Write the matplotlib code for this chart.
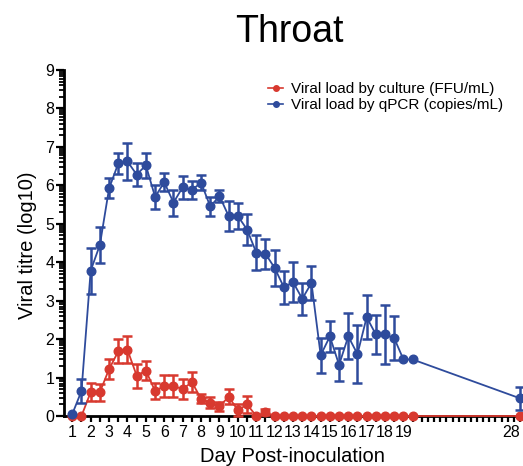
import numpy as np
import matplotlib
matplotlib.use("Agg")
import matplotlib.pyplot as plt
from matplotlib.ticker import FixedLocator, FixedFormatter
from matplotlib.lines import Line2D

plt.rcParams['font.family'] = ['Liberation Sans', 'DejaVu Sans']

# ---------------- data ----------------
days = [1, 1.5, 2, 2.5, 3, 3.5, 4, 4.5, 5, 5.5, 6, 6.5, 7, 7.5, 8, 8.5, 9, 9.5,
        10, 10.5, 11, 11.5, 12, 12.5, 13, 13.5, 14, 14.5, 15, 15.5, 16, 16.5,
        17, 17.5, 18, 18.5, 19, 19.5, 28]

qpcr = [0.05, 0.65, 3.78, 4.45, 5.92, 6.57, 6.62, 6.28, 6.52, 5.70, 6.08, 5.55,
        5.95, 5.88, 6.07, 5.45, 5.72, 5.20, 5.20, 4.85, 4.25, 4.22, 3.85, 3.35,
        3.48, 3.05, 3.46, 1.58, 2.07, 1.33, 2.07, 1.61, 2.57, 2.12, 2.12, 2.02,
        1.47, 1.47, 0.46]
qpcr_err = [0, 0.32, 0.60, 0.47, 0.26, 0.28, 0.48, 0.29, 0.32, 0.32, 0.24, 0.34,
            0.30, 0.23, 0.20, 0.25, 0.16, 0.38, 0.33, 0.40, 0.46, 0.39, 0.48, 0.43,
            0.52, 0.41, 0.45, 0.45, 0.40, 0.43, 0.60, 0.75, 0.58, 0.52, 0.76, 0.57,
            0, 0, 0.30]

culture = [0, 0, 0.62, 0.62, 1.22, 1.68, 1.72, 1.05, 1.18, 0.65, 0.78, 0.78,
           0.70, 0.88, 0.45, 0.35, 0.25, 0.50, 0.15, 0.30, 0.0, 0.10,
           0, 0, 0, 0, 0, 0, 0, 0, 0, 0, 0, 0, 0, 0, 0, 0, 0]
culture_err = [0, 0, 0.24, 0.22, 0.27, 0.31, 0.35, 0.31, 0.25, 0.20, 0.28, 0.28,
               0.25, 0.26, 0.12, 0.15, 0.12, 0.20, 0.15, 0.22, 0, 0.07,
               0, 0, 0, 0, 0, 0, 0, 0, 0, 0, 0, 0, 0, 0, 0, 0, 0]

x_major = [1, 2, 3, 4, 5, 6, 7, 8, 9, 10, 11, 12, 13, 14, 15, 16, 17, 18, 19, 28]
x_labels = ['1', '2', '3', '4', '5', '6', '7', '8', '9', '10', '11', '12', '13',
            '14', '15', '16', '17', '18', '19', '28']
y_major = [0, 1, 2, 3, 4, 5, 6, 7, 8, 9]

labels = ['Viral load by culture (FFU/mL)', 'Viral load by qPCR (copies/mL)']
title = 'Throat'
xlabel = 'Day Post-inoculation'
ylabel = 'Viral titre (log10)'

RED = '#D8392F'
BLUE = '#2E4B9C'

# compressed x scale after day 20
BREAK = 20.0
K = 2.0 / 3.0


def fwd(x):
    x = np.asarray(x, dtype=float)
    return np.where(x <= BREAK, x, BREAK + (x - BREAK) * K)


def inv(y):
    y = np.asarray(y, dtype=float)
    return np.where(y <= BREAK, y, BREAK + (y - BREAK) / K)


fig = plt.figure(figsize=(5.23, 4.66), dpi=100)
ax = fig.add_axes([64 / 523, 50 / 466, 456 / 523, 346 / 466])
ax.set_xscale('function', functions=(fwd, inv))

d = np.array(days)


def draw(vals, errs, color, z):
    vals = np.array(vals)
    errs = np.array(errs)
    m = errs > 0
    ax.errorbar(d[m], vals[m], yerr=errs[m], fmt='none', ecolor=color,
                elinewidth=1.8, capsize=3.3, capthick=1.8, zorder=z, clip_on=False)
    ax.plot(d, vals, '-o', color=color, lw=1.3, ms=6.2, zorder=z + 0.5, clip_on=False)


draw(culture, culture_err, RED, 4)
draw(qpcr, qpcr_err, BLUE, 5)

ax.set_xlim(inv(0.55), 28)
ax.set_ylim(0, 9)

# spines
for s in ['top', 'right']:
    ax.spines[s].set_visible(False)
for s in ['left', 'bottom']:
    ax.spines[s].set_linewidth(2.0)
    ax.spines[s].set_zorder(2)

# x ticks
x_minor = list(np.arange(1, 28.01, 0.5))
ax.xaxis.set_major_locator(FixedLocator(x_major))
ax.xaxis.set_major_formatter(FixedFormatter(x_labels))
ax.xaxis.set_minor_locator(FixedLocator(x_minor))
ax.tick_params(axis='x', which='both', direction='out', length=4.5, width=1.6,
               labelsize=11.5, pad=2)

# y ticks (log-style minor ticks)
y_minor = [n + np.log10(k) for n in range(9) for k in range(2, 10)]
ax.yaxis.set_major_locator(FixedLocator(y_major))
ax.yaxis.set_minor_locator(FixedLocator(y_minor))
ax.tick_params(axis='y', which='major', direction='out', length=6, width=1.6,
               labelsize=11.5, pad=1)
ax.tick_params(axis='y', which='minor', direction='out', length=3.5, width=1.3)

fig.canvas.draw()
ax.get_xticklabels()[-1].set_horizontalalignment('right')

# texts
fig.text(289 / 523, 1 - 42 / 466, title, fontsize=27, ha='center', va='baseline')
fig.text(28 / 523, 1 - 245 / 466, ylabel, fontsize=14.5, rotation=90,
         ha='center', va='center')
fig.text(292 / 523, 1 - 456 / 466, xlabel, fontsize=14.5, ha='center', va='center')

handles = [Line2D([], [], color=RED, lw=1.2, marker='o', ms=4),
           Line2D([], [], color=BLUE, lw=1.2, marker='o', ms=4)]
fig.legend(handles, labels, loc='upper left', bbox_to_anchor=(268 / 523, 1 - 82 / 466),
           frameon=False, fontsize=11, handlelength=1.0, handletextpad=0.5,
           labelspacing=0.15, borderpad=0, borderaxespad=0)

fig.savefig('out.png', dpi=100)
